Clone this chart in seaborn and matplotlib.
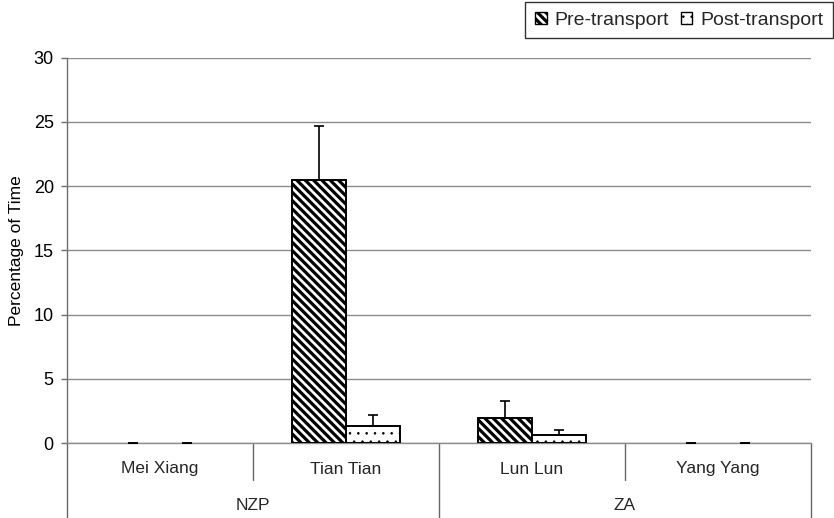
import matplotlib
matplotlib.use("Agg")
import matplotlib.pyplot as plt
import matplotlib.transforms as mtransforms
from matplotlib.patches import Patch
import numpy as np
import pandas as pd
import seaborn as sns

# Behaviour data: percentage of time per panda, before and after transport
sites = ["NZP", "ZA"]
pandas_names = ["Mei Xiang", "Tian Tian", "Lun Lun", "Yang Yang"]
panda_site = ["NZP", "NZP", "ZA", "ZA"]
phases = ["Pre-transport", "Post-transport"]
pre_mean = [0.0, 20.5, 1.95, 0.0]
pre_err = [0.0, 4.2, 1.3, 0.0]
post_mean = [0.0, 1.35, 0.62, 0.0]
post_err = [0.0, 0.82, 0.4, 0.0]
y_ticks = [0, 5, 10, 15, 20, 25, 30]

df = pd.DataFrame({
    "panda": pandas_names * 2,
    "phase": [phases[0]] * 4 + [phases[1]] * 4,
    "pct": pre_mean + post_mean,
    "err": pre_err + post_err,
})

sns.set_theme(style="white")
plt.rcParams["font.family"] = ["Liberation Sans", "DejaVu Sans"]

hatches = {"Pre-transport": "\\\\\\\\", "Post-transport": ".."}
hatch_lw = {"Pre-transport": 2.3, "Post-transport": 0.6}

fig = plt.figure(figsize=(8.34, 5.18), dpi=100)
ax = fig.add_axes([67 / 834, 75 / 518, 744 / 834, 385.5 / 518])

sns.barplot(data=df, x="panda", y="pct", hue="phase", order=pandas_names,
            hue_order=phases, palette={p: "white" for p in phases},
            saturation=1, width=0.58, errorbar=None, edgecolor="black",
            linewidth=1.4, legend=False, ax=ax, zorder=3)

for phase, container in zip(phases, ax.containers):
    sub = df[df["phase"] == phase].set_index("panda").loc[pandas_names]
    for patch, val, err in zip(container.patches, sub["pct"], sub["err"]):
        patch.set_hatch(hatches[phase])
        patch.set_hatch_linewidth(hatch_lw[phase])
        if val == 0:
            patch.set_linewidth(0)
        xc = patch.get_x() + patch.get_width() / 2
        ax.errorbar(xc, val, yerr=[[0], [err]], fmt="none", ecolor="black",
                    elinewidth=1.2, capsize=3.6, capthick=1.2, zorder=4)

ax.set_ylim(0, 30)
ax.set_yticks(y_ticks)
ax.set_xlim(-0.5, 3.5)
ax.yaxis.grid(True, color="#8c8c8c", linewidth=1.0, zorder=0)
ax.xaxis.grid(False)
ax.set_axisbelow(True)
for side in ("top", "right"):
    ax.spines[side].set_visible(False)
ax.spines["left"].set_color("#707070")
ax.spines["bottom"].set_color("#8c8c8c")
ax.spines["left"].set_linewidth(1.0)
ax.spines["bottom"].set_linewidth(1.0)
ax.tick_params(axis="y", which="major", left=True, length=4.5, width=1.0,
               color="#707070", labelsize=13, pad=5, labelcolor="black")
ax.tick_params(axis="x", bottom=False, labelbottom=False)
ax.set_xlabel("")
ax.set_ylabel("Percentage of Time", fontsize=12.5, labelpad=7, color="black")

# Two-level category axis below the plot
trans = mtransforms.blended_transform_factory(ax.transData, ax.transAxes)
ax_h = 385.5
line_kw = dict(transform=trans, color="#666666", linewidth=1.0, clip_on=False)
for xb in (0.5, 2.5):
    ax.plot([xb, xb], [0, -37 / ax_h], **line_kw)
for xb in (-0.5, 1.5, 3.5):
    ax.plot([xb, xb], [0, -76 / ax_h], **line_kw)
for i, name in enumerate(pandas_names):
    ax.text(i, -26 / ax_h, name, transform=trans, ha="center", va="center",
            fontsize=12.5)
for j, site in enumerate(sites):
    idx = [i for i, s in enumerate(panda_site) if s == site]
    ax.text(np.mean(idx), -63 / ax_h, site, transform=trans, ha="center",
            va="center", fontsize=12.5)

handles = []
for p in phases:
    h = Patch(facecolor="white", edgecolor="black", linewidth=1.0,
              hatch=hatches[p], label=p)
    h.set_hatch_linewidth(hatch_lw[p])
    handles.append(h)
leg = fig.legend(handles=handles, loc="upper right", ncol=2,
                 bbox_to_anchor=(833 / 834, 1 - 2 / 518), borderaxespad=0,
                 frameon=True, fancybox=False, edgecolor="black",
                 fontsize=14, handlelength=0.6, handleheight=0.6,
                 handletextpad=0.4, columnspacing=0.6, borderpad=0.5)
leg.get_frame().set_linewidth(1.0)
for lh, p in zip(leg.legend_handles, phases):
    lh.set_hatch_linewidth(hatch_lw[p])

fig.savefig("out.png", dpi=100, facecolor="white")
